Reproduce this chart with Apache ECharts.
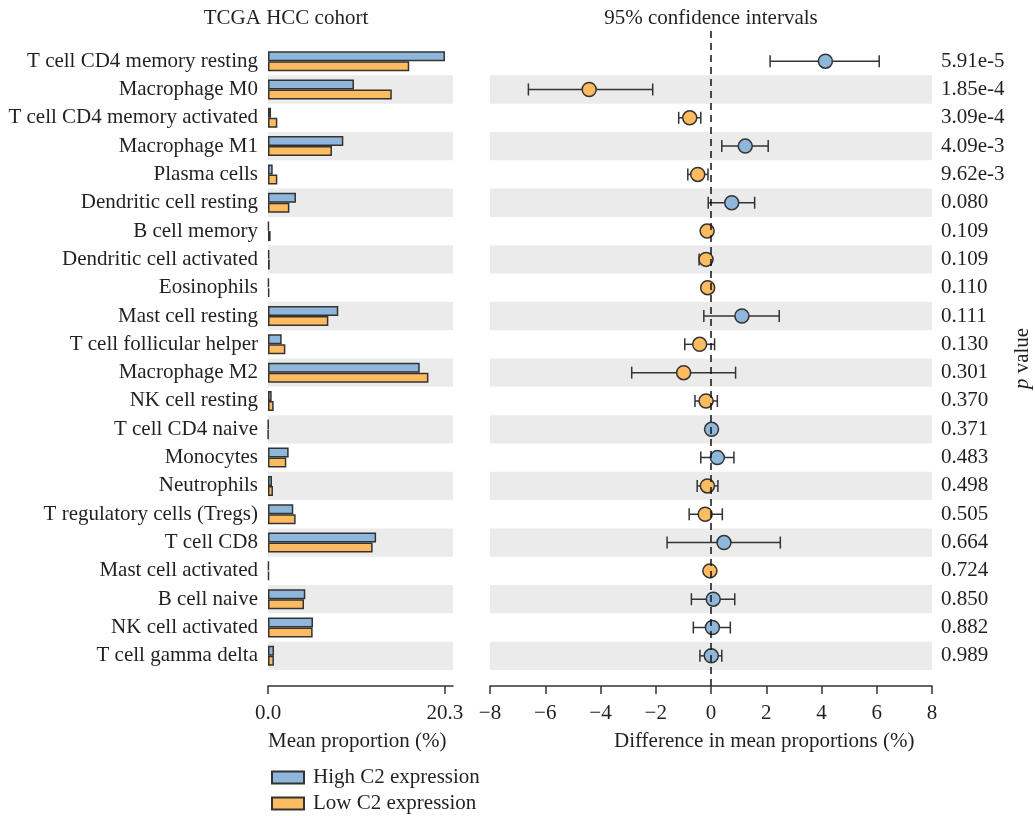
<!DOCTYPE html>
<html><head><meta charset="utf-8">
<script src="https://cdn.jsdelivr.net/npm/echarts@6/dist/echarts.min.js"></script>
<style>html,body{margin:0;padding:0;background:#fff}#c{width:1035px;height:816px}</style>
</head><body><div id="c"></div>
<script>
const categories = [
  'T cell CD4 memory resting','Macrophage M0','T cell CD4 memory activated','Macrophage M1',
  'Plasma cells','Dendritic cell resting','B cell memory','Dendritic cell activated','Eosinophils',
  'Mast cell resting','T cell follicular helper','Macrophage M2','NK cell resting','T cell CD4 naive',
  'Monocytes','Neutrophils','T regulatory cells (Tregs)','T cell CD8','Mast cell activated',
  'B cell naive','NK cell activated','T cell gamma delta'
];
const highC2 = [20.3, 9.86, 0.35, 8.64, 0.54, 3.21, 0.10, 0.15, 0.10, 8.06, 1.57, 17.4, 0.42, 0.05, 2.37, 0.46, 2.90, 12.4, 0.10, 4.28, 5.16, 0.69];
const lowC2  = [16.2, 14.2, 1.07, 7.34, 1.07, 2.45, 0.30, 0.20, 0.15, 6.92, 1.99, 18.4, 0.65, 0.03, 2.10, 0.57, 3.17, 12.0, 0.12, 4.13, 5.12, 0.68];
const diffMean = [4.14, -4.41, -0.77, 1.24, -0.48, 0.75, -0.14, -0.18, -0.12, 1.12, -0.41, -0.99, -0.18, 0.02, 0.23, -0.13, -0.21, 0.47, -0.04, 0.08, 0.05, 0.01];
const ciLow  = [2.14, -6.61, -1.17, 0.39, -0.84, -0.10, -0.25, -0.43, -0.25, -0.26, -0.95, -2.87, -0.58, 0.00, -0.37, -0.50, -0.79, -1.59, -0.10, -0.71, -0.64, -0.40];
const ciHigh = [6.09, -2.11, -0.37, 2.07, -0.11, 1.58, -0.05, 0.00, 0.00, 2.47, 0.13, 0.89, 0.23, 0.04, 0.83, 0.25, 0.41, 2.51, 0.05, 0.86, 0.70, 0.39];
const pValues = ['5.91e-5','1.85e-4','3.09e-4','4.09e-3','9.62e-3','0.080','0.109','0.109','0.110','0.111','0.130','0.301','0.370','0.371','0.483','0.498','0.505','0.664','0.724','0.850','0.882','0.989'];
const leftTicks = [0, 20.3];
const seriesNames = ['High C2 expression', 'Low C2 expression'];

const FONT = '"Liberation Serif", "Times New Roman", serif';
const TXT = '#231f20';
const BLUE = '#8fb7db';
const ORANGE = '#febb5f';
const EDGE = '#333333';
const FS = 21;

const chart = echarts.init(document.getElementById('c'), null, {renderer: 'canvas'});
const axisLineStyle = {color: EDGE, width: 1.5};
const band = {show: true, interval: 0, areaStyle: {color: ['rgba(255,255,255,0)', '#ebebeb']}};
const legendBase = {orient: 'vertical', left: 266, icon: 'rect', itemWidth: 32, itemHeight: 12,
  textStyle: {fontFamily: FONT, fontSize: FS, color: TXT, padding: [0, 0, 0, 4]}};

const option = {
  animation: false,
  backgroundColor: '#fff',
  textStyle: {fontFamily: FONT, color: TXT},
  grid: [
    {left: 268, top: 47, width: 185, height: 623},
    {left: 490, top: 47, width: 442, height: 623},
    {left: 490, top: 28, width: 442, height: 658}
  ],
  xAxis: [
    {gridIndex: 0, type: 'value', min: 0, max: 21.22, offset: 16,
     axisLine: {show: true, lineStyle: axisLineStyle},
     axisTick: {show: true, customValues: leftTicks, length: 8, lineStyle: axisLineStyle},
     axisLabel: {customValues: leftTicks, formatter: v => v.toFixed(1), margin: 17, fontFamily: FONT, fontSize: FS, color: TXT},
     splitLine: {show: false}},
    {gridIndex: 1, type: 'value', min: -8, max: 8, interval: 2, offset: 16,
     axisLine: {show: true, onZero: false, lineStyle: axisLineStyle},
     axisTick: {show: true, length: 8, lineStyle: axisLineStyle},
     axisLabel: {formatter: v => v < 0 ? '\u2212' + Math.abs(v) : String(v), margin: 17, fontFamily: FONT, fontSize: FS, color: TXT},
     splitLine: {show: false}},
    {gridIndex: 2, type: 'value', min: -8, max: 8, show: false}
  ],
  yAxis: [
    {gridIndex: 0, type: 'category', data: categories, inverse: true,
     axisLine: {show: false}, axisTick: {show: false},
     axisLabel: {interval: 0, margin: 10, fontFamily: FONT, fontSize: FS, color: TXT},
     splitArea: band},
    {gridIndex: 1, type: 'category', data: categories, inverse: true,
     axisLine: {show: false}, axisTick: {show: false}, axisLabel: {show: false},
     splitArea: band},
    {gridIndex: 1, type: 'category', data: pValues, inverse: true, position: 'right',
     axisLine: {show: false}, axisTick: {show: false},
     axisLabel: {interval: 0, margin: 9, fontFamily: FONT, fontSize: FS, color: TXT},
     name: '{i|p} value', nameLocation: 'middle', nameGap: 80, nameRotate: 90,
     nameTextStyle: {fontFamily: FONT, fontSize: FS, color: TXT,
       rich: {i: {fontStyle: 'italic', fontFamily: FONT, fontSize: FS, color: TXT}}}},
    {gridIndex: 2, type: 'value', min: 0, max: 1, show: false}
  ],
  legend: [
    Object.assign({data: [seriesNames[0]], top: 762}, legendBase),
    Object.assign({data: [seriesNames[1]], top: 788}, legendBase)
  ],
  graphic: [
    {type: 'text', x: 286, y: 18, style: {text: 'TCGA HCC cohort', font: FS + 'px ' + FONT, fill: TXT, textAlign: 'center', textVerticalAlign: 'middle'}},
    {type: 'text', x: 711, y: 18, style: {text: '95% confidence intervals', font: FS + 'px ' + FONT, fill: TXT, textAlign: 'center', textVerticalAlign: 'middle'}},
    {type: 'text', x: 268, y: 741, style: {text: 'Mean proportion (%)', font: FS + 'px ' + FONT, fill: TXT, textAlign: 'left', textVerticalAlign: 'middle'}},
    {type: 'text', x: 614, y: 741, style: {text: 'Difference in mean proportions (%)', font: FS + 'px ' + FONT, fill: TXT, textAlign: 'left', textVerticalAlign: 'middle'}}
  ],
  series: [
    {name: seriesNames[0], type: 'bar', xAxisIndex: 0, yAxisIndex: 0, data: highC2,
     barWidth: 10, barGap: '0%', itemStyle: {color: BLUE, borderColor: EDGE, borderWidth: 1.5}},
    {name: seriesNames[1], type: 'bar', xAxisIndex: 0, yAxisIndex: 0, data: lowC2,
     barWidth: 10, barGap: '0%', itemStyle: {color: ORANGE, borderColor: EDGE, borderWidth: 1.5}},
    {type: 'custom', xAxisIndex: 1, yAxisIndex: 1, z: 3,
     data: categories.map((c, i) => [ciLow[i], ciHigh[i], i]),
     renderItem: function (params, api) {
       const y = api.value(2);
       const a = api.coord([api.value(0), y]);
       const b = api.coord([api.value(1), y]);
       const h = 6;
       const st = {stroke: EDGE, lineWidth: 1.5};
       return {type: 'group', children: [
         {type: 'line', shape: {x1: a[0], y1: a[1], x2: b[0], y2: b[1]}, style: st},
         {type: 'line', shape: {x1: a[0], y1: a[1] - h, x2: a[0], y2: a[1] + h}, style: st},
         {type: 'line', shape: {x1: b[0], y1: b[1] - h, x2: b[0], y2: b[1] + h}, style: st}
       ]};
     }},
    {type: 'scatter', xAxisIndex: 1, yAxisIndex: 1, z: 4, symbolSize: 14,
     data: diffMean.map((d, i) => [d, i]),
     itemStyle: {color: p => p.value[0] >= 0 ? BLUE : ORANGE, borderColor: EDGE, borderWidth: 1.5, opacity: 1}},
    {type: 'line', xAxisIndex: 2, yAxisIndex: 3, z: 5, data: [[0, 0], [0, 1]], symbol: 'none',
     lineStyle: {color: '#111', width: 1.5, type: [7, 5]}, silent: true}
  ]
};
chart.setOption(option);
</script></body></html>
